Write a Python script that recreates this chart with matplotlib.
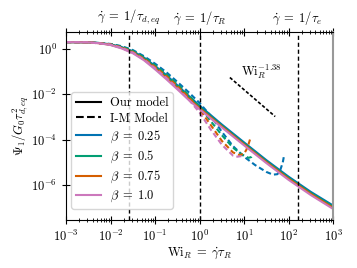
import numpy as np
import matplotlib
matplotlib.use("Agg")
import matplotlib.pyplot as plt

plt.rcParams['font.family'] = 'serif'
plt.rcParams['font.serif'] = ['cmr10', 'DejaVu Serif']
plt.rcParams['mathtext.fontset'] = 'cm'
plt.rcParams['axes.formatter.use_mathtext'] = True
plt.rcParams['font.size'] = 9

# beta values and colours
betas = ['0.25', '0.5', '0.75', '1.0']
colors = ['#0173b2', '#029e73', '#d55e00', '#cc78bc']

# our model, log10 of Wi_R and log10 of Psi_1
x_solid = [-3, -2.5, -2.25, -2, -1.75, -1.5, -1.25, -1, -0.75, -0.5, -0.25, 0, 0.5, 1, 1.5, 2, 2.5, 3]
y_solid_025 = [0.30, 0.29, 0.26, 0.20, 0.08, -0.10, -0.38, -0.75, -1.15, -1.60, -2.06, -2.50, -3.33, -4.12, -4.90, -5.63, -6.30, -6.90]
y_solid_05 = [0.30, 0.29, 0.26, 0.19, 0.06, -0.13, -0.42, -0.80, -1.21, -1.66, -2.12, -2.56, -3.38, -4.17, -4.95, -5.68, -6.35, -6.95]
y_solid_075 = [0.30, 0.29, 0.25, 0.18, 0.04, -0.16, -0.46, -0.85, -1.27, -1.72, -2.18, -2.61, -3.42, -4.21, -4.99, -5.72, -6.39, -7.00]
y_solid_1 = [0.30, 0.29, 0.25, 0.17, 0.02, -0.19, -0.50, -0.90, -1.33, -1.78, -2.24, -2.66, -3.46, -4.25, -5.03, -5.77, -6.44, -7.05]

# I-M model
x_im_025 = [-3, -2.5, -2, -1.75, -1.5, -1.25, -1, -0.75, -0.5, -0.25, 0, 0.25, 0.5, 0.75, 1, 1.25, 1.5, 1.65, 1.75, 1.82, 1.87, 1.90]
y_im_025 = [0.30, 0.29, 0.22, 0.12, -0.05, -0.32, -0.65, -1.02, -1.45, -1.90, -2.38, -2.95, -3.65, -4.28, -4.75, -5.12, -5.42, -5.54, -5.52, -5.30, -5.00, -4.68]
x_im_05 = [-3, -2.5, -2, -1.75, -1.5, -1.25, -1, -0.75, -0.5, -0.25, 0, 0.25, 0.5, 0.75, 0.95, 1.1, 1.17, 1.2]
y_im_05 = [0.30, 0.29, 0.21, 0.10, -0.08, -0.37, -0.72, -1.11, -1.55, -2.02, -2.56, -3.18, -3.80, -4.35, -4.65, -4.80, -4.76, -4.70]
x_im_075 = [-3, -2.5, -2, -1.75, -1.5, -1.25, -1, -0.75, -0.5, -0.25, 0, 0.25, 0.5, 0.75, 0.9, 1.0, 1.05, 1.1, 1.14]
y_im_075 = [0.30, 0.29, 0.20, 0.07, -0.13, -0.43, -0.79, -1.19, -1.64, -2.12, -2.66, -3.35, -4.05, -4.56, -4.68, -4.62, -4.45, -4.20, -3.95]
x_im_1 = [-3, -2.5, -2, -1.75, -1.5, -1.25, -1, -0.75, -0.5, -0.25, 0, 0.25, 0.5, 0.75, 0.85, 0.95]
y_im_1 = [0.30, 0.29, 0.19, 0.05, -0.16, -0.47, -0.85, -1.27, -1.72, -2.22, -2.80, -3.55, -4.22, -4.70, -4.75, -4.72]

# characteristic rates
rates = [0.026, 1.0, 160.0]
rate_labels = [r'$\dot{\gamma} \;=\; 1/\tau_{d,eq}$', r'$\dot{\gamma} \;=\; 1/\tau_R$', r'$\dot{\gamma} \;=\; 1/\tau_e$']

# slope guide
slope_x = [4.8, 50.0]
slope_y = [10**-1.26, 10**-2.98]

y_ticks = [1e0, 1e-2, 1e-4, 1e-6]

solids = [y_solid_025, y_solid_05, y_solid_075, y_solid_1]
im_x = [x_im_025, x_im_05, x_im_075, x_im_1]
im_y = [y_im_025, y_im_05, y_im_075, y_im_1]

fig = plt.figure(figsize=(3.57, 2.68), dpi=100)
ax = fig.add_axes([0.185, 0.179, 0.748, 0.702])

for i in range(4):
    ax.plot(10**np.array(x_solid), 10**np.array(solids[i]), c=colors[i], lw=1.5)
    ax.plot(10**np.array(im_x[i]), 10**np.array(im_y[i]), c=colors[i], lw=1.5, ls='--', dashes=(2.5, 1.5))

for r in rates:
    ax.axvline(r, c='k', ls='--', lw=1, dashes=(3, 2))
for r, lab in zip(rates, rate_labels):
    ax.text(r, 1.025, lab, transform=ax.get_xaxis_transform(), ha='center', va='bottom', fontsize=9)

ax.plot(slope_x, slope_y, c='k', ls='--', lw=1.2, dashes=(2, 1.2))
ax.text(25, 10**-1.01, r'$\mathrm{Wi}_R^{-1.38}$', ha='center', va='center', fontsize=9)

ax.set_xscale('log')
ax.set_yscale('log')
ax.set_xlim(1e-3, 1e3)
ax.set_ylim(10**-7.54, 10**0.75)
ax.set_yticks(y_ticks)
ax.set_xlabel(r'$\mathrm{Wi}_R \;=\; \dot{\gamma}\tau_R$', labelpad=1)
ax.set_ylabel(r'$\Psi_1/G_0\tau_{d,eq}^2$', labelpad=0)
ax.tick_params(which='both', direction='inout', top=True, right=False)
ax.tick_params(which='major', length=6)
ax.tick_params(which='minor', length=3)
ax.spines['right'].set_color('#999999')
ax.spines['right'].set_linewidth(1.5)

# legend
h = [plt.Line2D([], [], c='k', lw=1.5), plt.Line2D([], [], c='k', lw=1.5, ls='--')]
labs = ['Our model', 'I-M Model']
for i in range(4):
    h.append(plt.Line2D([], [], c=colors[i], lw=1.5))
    labs.append(r'$\beta \;=\; ' + betas[i] + '$')
ax.legend(h, labs, loc='lower left', bbox_to_anchor=(0.02, 0.06), borderaxespad=0,
          fontsize=9, labelspacing=0.3, borderpad=0.35, handletextpad=0.7)

fig.savefig('out.png', dpi=100)
